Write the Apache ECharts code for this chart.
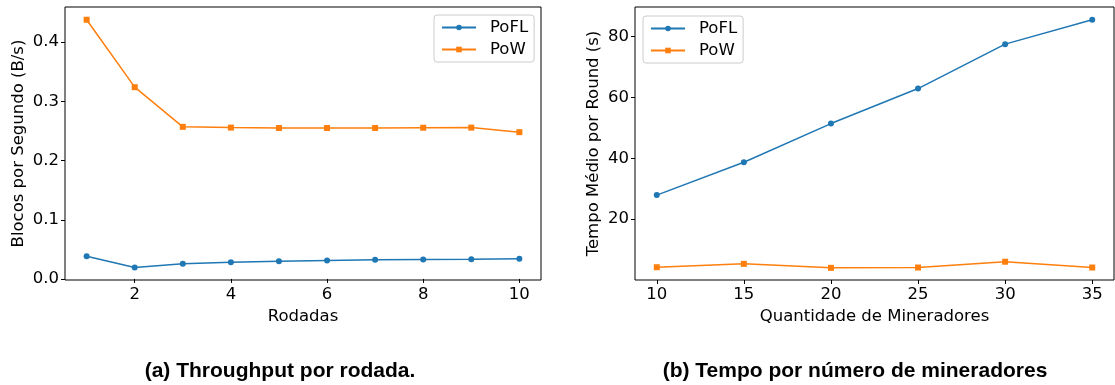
<!DOCTYPE html>
<html>
<head>
<meta charset="utf-8">
<script src="https://cdn.jsdelivr.net/npm/echarts@6/dist/echarts.min.js"></script>
<style>
  html, body { margin: 0; padding: 0; background: #fff; }
  #chart { width: 1115px; height: 385px; }
</style>
</head>
<body>
<div id="chart"></div>
<script>
// (a) throughput per round
const rounds = [1, 2, 3, 4, 5, 6, 7, 8, 9, 10]
const poflThroughput = [0.0385, 0.0194, 0.0256, 0.0284, 0.030, 0.0312, 0.0324, 0.0329, 0.0334, 0.034]
const powThroughput = [0.438, 0.324, 0.257, 0.2557, 0.255, 0.255, 0.255, 0.2555, 0.2557, 0.248]
const roundTicks = [2, 4, 6, 8, 10]
const throughputTicks = [0.0, 0.1, 0.2, 0.3, 0.4]

// (b) time per number of miners
const miners = [10, 15, 20, 25, 30, 35]
const poflTime = [27.9, 38.7, 51.4, 62.9, 77.5, 85.5]
const powTime = [4.2, 5.3, 4.0, 4.1, 6.0, 4.1]
const minerTicks = [10, 15, 20, 25, 30, 35]
const timeTicks = [20, 40, 60, 80]

const blue = '#1f77b4'
const orange = '#ff7f0e'
const font = 'DejaVu Sans'
const fs = 16.5

const pairs = (xs, ys) => xs.map((x, i) => [x, ys[i]])

const makeX = (idx, min, max, ticks, name) => ({
  type: 'value',
  gridIndex: idx,
  min: min,
  max: max,
  name: name,
  nameLocation: 'middle',
  nameGap: 25,
  nameTextStyle: { fontFamily: font, fontSize: fs, color: '#000' },
  axisLine: { show: false },
  axisTick: { show: true, length: 4, lineStyle: { color: '#000' }, customValues: ticks },
  axisLabel: {
    fontFamily: font, fontSize: fs, color: '#000', margin: 6,
    customValues: ticks
  },
  splitLine: { show: false }
})

const makeY = (idx, min, max, ticks, name, gap, fmt) => ({
  type: 'value',
  gridIndex: idx,
  min: min,
  max: max,
  name: name,
  nameLocation: 'middle',
  nameGap: gap,
  nameTextStyle: { fontFamily: font, fontSize: fs, color: '#000' },
  axisLine: { show: false },
  axisTick: { show: true, length: 4, lineStyle: { color: '#000' }, customValues: ticks },
  axisLabel: {
    fontFamily: font, fontSize: fs, color: '#000', margin: 6,
    customValues: ticks,
    formatter: fmt
  },
  splitLine: { show: false }
})

const lineSeries = (name, idx, data, color, symbol) => ({
  name: name,
  type: 'line',
  xAxisIndex: idx,
  yAxisIndex: idx,
  data: data,
  color: color,
  symbol: symbol,
  symbolSize: 6,
  showAllSymbol: true,
  lineStyle: { width: 1.5, color: color },
  itemStyle: { color: color },
  animation: false
})

const makeLegend = (left, top) => ({
  left: left,
  top: top,
  orient: 'vertical',
  data: ['PoFL', 'PoW'],
  itemWidth: 34,
  itemHeight: 7,
  itemGap: 5,
  padding: [4, 6, 4, 7],
  borderColor: '#cccccc',
  borderWidth: 1,
  borderRadius: 3,
  backgroundColor: 'rgba(255,255,255,0.8)',
  textStyle: { fontFamily: font, fontSize: fs, color: '#000', padding: [0, 0, 0, 9] }
})

const option = {
  backgroundColor: '#fff',
  animation: false,
  grid: [
    { left: 65, top: 7, width: 476, height: 273, show: true, borderColor: '#000', borderWidth: 1, backgroundColor: 'transparent' },
    { left: 635, top: 7, width: 479, height: 273, show: true, borderColor: '#000', borderWidth: 1, backgroundColor: 'transparent' }
  ],
  title: [
    {
      text: '(a) Throughput por rodada.',
      left: 275, top: 356, textAlign: 'center',
      textStyle: { fontFamily: 'Liberation Sans', fontWeight: 'bold', fontSize: 21, color: '#000' }
    },
    {
      text: '(b) Tempo por número de mineradores',
      left: 850, top: 356, textAlign: 'center',
      textStyle: { fontFamily: 'Liberation Sans', fontWeight: 'bold', fontSize: 21, color: '#000' }
    }
  ],
  legend: [makeLegend(434, 15), makeLegend(643, 16)],
  xAxis: [
    makeX(0, 0.55, 10.45, roundTicks, 'Rodadas'),
    makeX(1, 8.75, 36.25, minerTicks, 'Quantidade de Mineradores')
  ],
  yAxis: [
    makeY(0, -0.0018, 0.4595, throughputTicks, 'Blocos por Segundo (B/s)', 38, v => v.toFixed(1)),
    makeY(1, 0, 89.7, timeTicks, 'Tempo Médio por Round (s)', 33, v => String(v))
  ],
  series: [
    lineSeries('PoFL', 0, pairs(rounds, poflThroughput), blue, 'circle'),
    lineSeries('PoW', 0, pairs(rounds, powThroughput), orange, 'rect'),
    lineSeries('PoFL', 1, pairs(miners, poflTime), blue, 'circle'),
    lineSeries('PoW', 1, pairs(miners, powTime), orange, 'rect')
  ]
}

const chart = echarts.init(document.getElementById('chart'), null, { renderer: 'canvas' })
chart.setOption(option)
</script>
</body>
</html>
